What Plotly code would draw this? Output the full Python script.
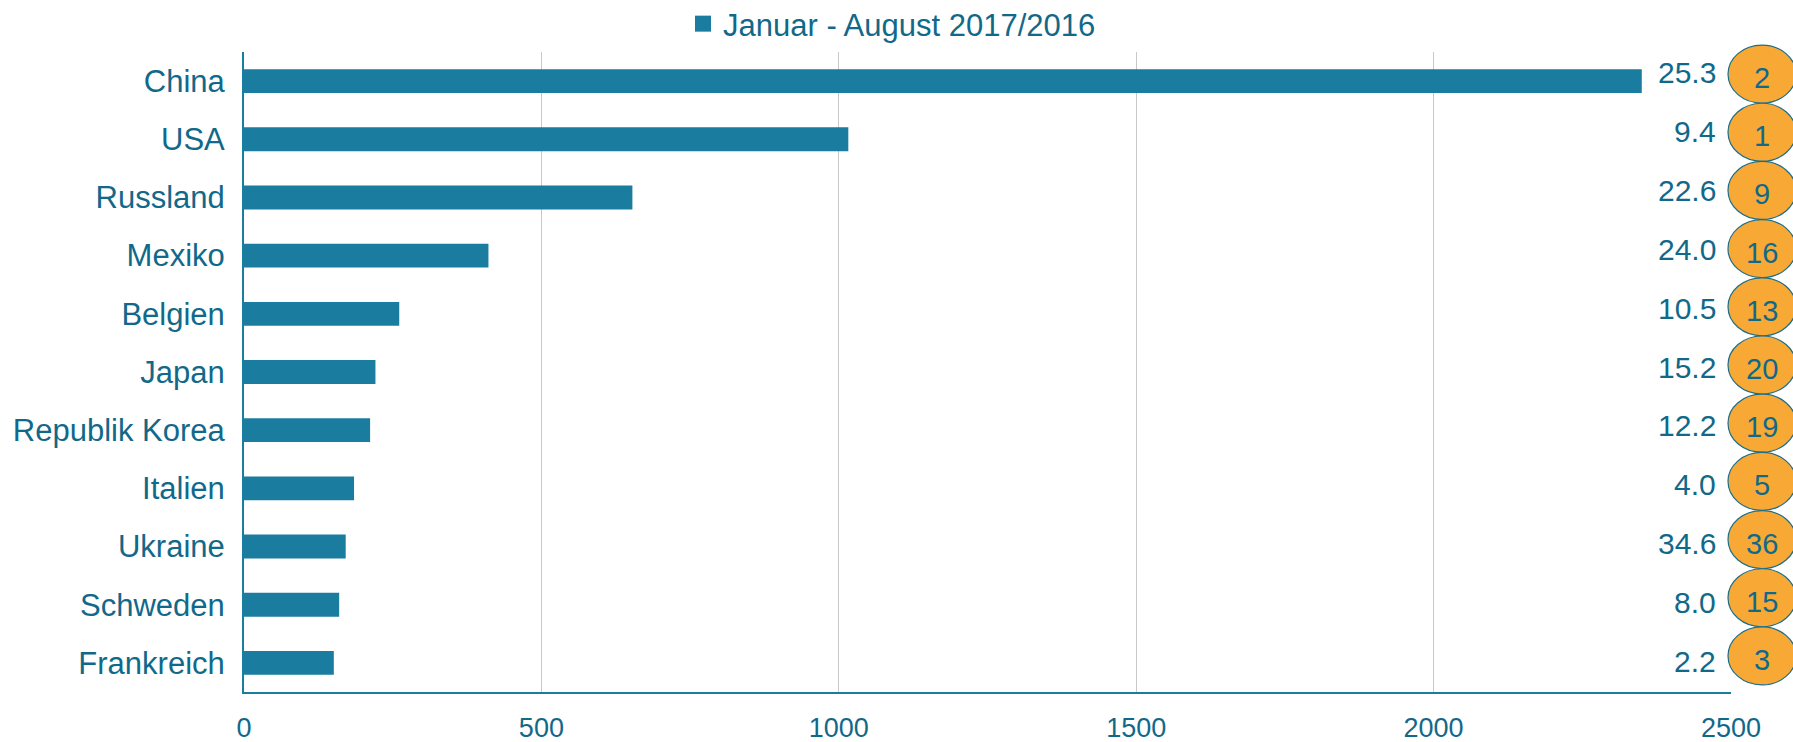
import plotly.graph_objects as go

categories = ["China", "USA", "Russland", "Mexiko", "Belgien", "Japan",
              "Republik Korea", "Italien", "Ukraine", "Schweden", "Frankreich"]
values = [2350, 1016, 653, 411, 261, 221, 212, 185, 171, 160, 151]
shares = ["25.3", "9.4", "22.6", "24.0", "10.5", "15.2", "12.2", "4.0", "34.6", "8.0", "2.2"]
ranks = ["2", "1", "9", "16", "13", "20", "19", "5", "36", "15", "3"]
series_name = "Januar - August 2017/2016"
x_ticks = [0, 500, 1000, 1500, 2000, 2500]

TEXT = "#11698A"
BAR = "#1A7DA0"
ORANGE = "#F8A834"
FONT = "Liberation Sans, Arial, sans-serif"

fig = go.Figure()
fig.add_trace(go.Bar(
    y=categories, x=values, orientation="h", name=series_name,
    marker=dict(color=BAR, line=dict(width=0)), width=0.41,
    showlegend=False,
))
# legend entry (square swatch)
fig.add_trace(go.Scatter(
    x=[None], y=[None], mode="markers", name=series_name,
    marker=dict(symbol="square", size=16, color=BAR),
    showlegend=True,
))

N = len(categories)
shapes = []
annotations = []
for i, cat in enumerate(categories):
    yc = 1 - (i + 0.5) / N
    shapes.append(dict(
        type="circle", xref="x domain", yref="y domain",
        xsizemode="pixel", ysizemode="pixel",
        xanchor=1, yanchor=yc,
        x0=-3, x1=65, y0=-22, y1=36,
        fillcolor=ORANGE, line=dict(color="#1B6E8A", width=1.2),
        layer="above",
    ))
    annotations.append(dict(
        x=2500, y=cat, xref="x", yref="y", text=shares[i],
        showarrow=False, xanchor="right", yanchor="middle",
        xshift=-13, yshift=9 - i * 0.8,
        font=dict(family=FONT, size=30, color=TEXT),
    ))
    annotations.append(dict(
        x=2500, y=cat, xref="x", yref="y", text=ranks[i],
        showarrow=False, xanchor="center", yanchor="middle",
        xshift=31, yshift=3,
        font=dict(family=FONT, size=29, color=TEXT),
    ))

fig.update_layout(
    width=1793, height=742,
    margin=dict(l=244, r=62, t=52, b=50, autoexpand=False),
    paper_bgcolor="white", plot_bgcolor="white",
    font=dict(family=FONT, size=28, color=TEXT),
    legend=dict(
        orientation="h", x=683 / 1793, xref="container", xanchor="left",
        y=1 - 24 / 742, yref="container", yanchor="middle",
        font=dict(family=FONT, size=31, color=TEXT),
        itemwidth=30, bgcolor="rgba(0,0,0,0)",
    ),
    shapes=shapes,
    annotations=annotations,
)
fig.update_xaxes(
    range=[0, 2500], tickvals=x_ticks, ticktext=[str(v) for v in x_ticks],
    showgrid=True, gridcolor="#C8C8C8", gridwidth=1.2,
    showline=True, linecolor=BAR, linewidth=2, automargin=False,
    ticks="", ticklabelstandoff=11, zeroline=False,
    tickfont=dict(family=FONT, size=27, color=TEXT),
)
fig.update_yaxes(
    categoryorder="array", categoryarray=categories, autorange="reversed",
    showline=True, linecolor=BAR, linewidth=2, showgrid=False, automargin=False,
    ticks="", ticklabelstandoff=11,
    tickfont=dict(family=FONT, size=31, color=TEXT),
)

fig.write_html("out.html", config={"displayModeBar": False},
               post_script="document.body.style.margin='0';")
